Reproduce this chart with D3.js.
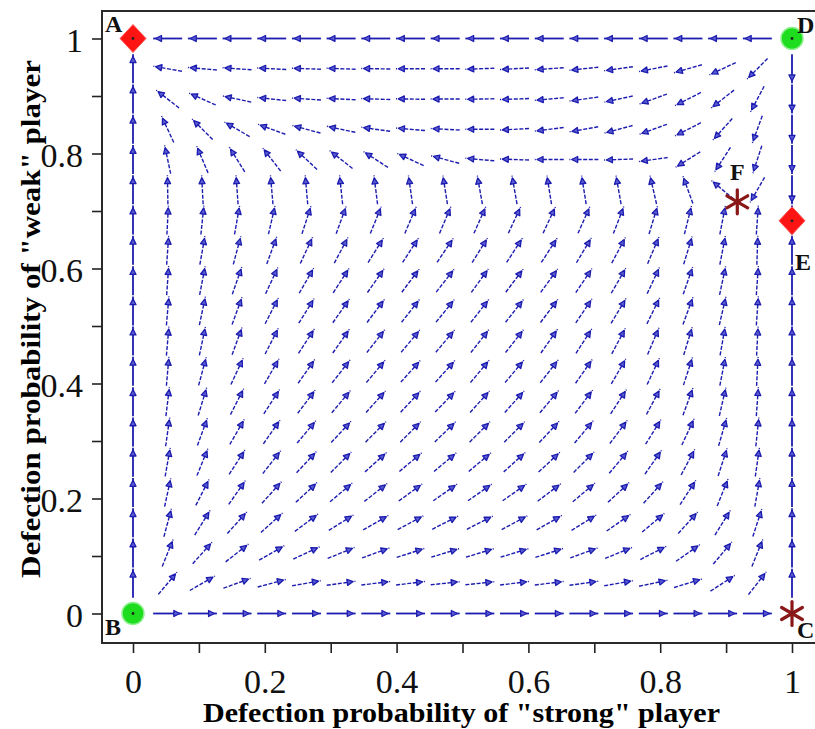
<!DOCTYPE html>
<html><head><meta charset="utf-8">
<script src="https://cdn.jsdelivr.net/npm/d3@7"></script>
<style>html,body{margin:0;padding:0;background:#fff;} svg{display:block;}</style>
</head><body><svg id="c" width="815" height="729"></svg>
<script>
// grid of the field plot (20 x 20), same values on both axes
const gridValues = [0,0.0526,0.1053,0.1579,0.2105,0.2632,0.3158,0.3684,0.4211,0.4737,0.5263,0.5789,0.6316,0.6842,0.7368,0.7895,0.8421,0.8947,0.9474,1];
// arrow directions in degrees (0 = right, 90 = up); one row per grid value of the "weak" player, null = rest point
const dirRow00 = [null,0,0,0,0,0,0,0,0,0,0,0,0,0,0,0,0,0,0,null];
const dirRow01 = [90,50,30,20,15,10,8,7,7,6,6,7,7,8,10,12,17,33,52,90];
const dirRow02 = [90,68,48,38,30,25,22,20,18,17,17,17,18,20,22,27,35,50,68,90];
const dirRow03 = [90,75,58,48,42,37,32,30,28,27,27,28,30,32,35,40,48,58,72,90];
const dirRow04 = [90,78,63,55,48,43,40,38,36,35,35,35,37,40,43,48,57,68,80,90];
const dirRow05 = [90,80,68,57,52,47,45,42,40,40,40,42,43,45,50,55,62,72,82,90];
const dirRow06 = [90,82,70,60,55,50,47,45,45,44,45,45,47,50,53,58,65,74,84,90];
const dirRow07 = [90,83,73,63,57,53,50,48,47,46,48,48,50,53,57,62,70,77,86,90];
const dirRow08 = [90,85,75,65,60,55,52,50,48,48,50,50,52,55,60,65,72,79,87,90];
const dirRow09 = [90,85,78,70,63,57,55,52,50,50,52,52,55,57,62,67,73,80,87,90];
const dirRow10 = [90,85,78,70,63,58,55,53,52,51,52,52,53,56,59,64,70,77,86,90];
const dirRow11 = [90,86,79,71,65,60,57,55,53,52,54,53,54,56,60,65,71,78,86,90];
const dirRow12 = [90,86,80,75,70,65,62,58,57,56,58,57,57,59,62,67,73,79,88,90];
const dirRow13 = [90,87,84,80,77,72,70,68,67,67,66,65,65,66,69,73,76,79,86,90];
const dirRow14 = [90,91,93,94,95,95,96,97,98,99,100,100,99,99,100,103,110,140,240,270];
const dirRow15 = [90,102,113,122,128,137,142,147,155,165,175,178,180,180,182,188,212,237,252,270];
const dirRow16 = [90,115,135,150,160,165,168,172,175,177,180,183,187,190,195,200,207,228,250,270];
const dirRow17 = [90,142,156,168,174,176,177,178,179,180,181,182,185,188,192,200,207,218,242,270];
const dirRow18 = [90,170,175,176,177,178,178,179,180,180,182,183,184,186,188,191,196,205,225,270];
const dirRow19 = [null,180,180,180,180,180,180,180,180,180,180,180,180,180,180,180,180,180,180,null];
const dirRows = [dirRow00,dirRow01,dirRow02,dirRow03,dirRow04,dirRow05,dirRow06,dirRow07,dirRow08,dirRow09,
                 dirRow10,dirRow11,dirRow12,dirRow13,dirRow14,dirRow15,dirRow16,dirRow17,dirRow18,dirRow19];

// rest points
const eqLabel = ["A","B","C","D","E","F"];
const eqX = [0, 0, 1, 1, 1, 0.917];
const eqY = [1, 0, 0, 1, 0.683, 0.716];
const eqShape = ["diamond","circle","asterisk","circle","diamond","asterisk"];

// ticks
const tickValues = [0,0.1,0.2,0.3,0.4,0.5,0.6,0.7,0.8,0.9,1];
const tickLabels = ["0","","0.2","","0.4","","0.6","","0.8","","1"];
const xTitle = 'Defection probability of "strong" player';
const yTitle = 'Defection probability of "weak" player';

const svg = d3.select("#c");
const x = d3.scaleLinear().domain([0,1]).range([133, 792]);
const y = d3.scaleLinear().domain([0,1]).range([613.5, 38.5]);
const blue = "#1c1cb0";
const serif = "'Liberation Serif','DejaVu Serif',serif";

// frame
svg.append("rect").attr("x",102).attr("y",11).attr("width",730).attr("height",632)
  .attr("fill","none").attr("stroke","#2a2a2a").attr("stroke-width",2);

// axes
const fmt = d => tickLabels[tickValues.indexOf(d)];
const gx = svg.append("g").attr("transform","translate(0,643)")
  .call(d3.axisBottom(x).tickValues(tickValues).tickSize(10).tickFormat(fmt));
const gy = svg.append("g").attr("transform","translate(102,0)")
  .call(d3.axisLeft(y).tickValues(tickValues).tickSize(10).tickFormat(fmt));
[gx,gy].forEach(g => {
  g.select(".domain").remove();
  g.selectAll(".tick line").attr("stroke","#222").attr("stroke-width",1.6);
  g.selectAll(".tick text").attr("font-family",serif).attr("font-size",34).attr("fill","#111");
});
gx.selectAll(".tick text").attr("y",50).attr("dy",0);
gy.selectAll(".tick text").attr("x",-19).attr("dy","0.38em");

// titles
svg.append("text").attr("x",461.5).attr("y",722).attr("text-anchor","middle")
  .attr("font-family",serif).attr("font-weight","bold").attr("font-size",27)
  .attr("textLength",517).attr("lengthAdjust","spacingAndGlyphs").text(xTitle);
svg.append("text").attr("transform","translate(40,319) rotate(-90)").attr("text-anchor","middle")
  .attr("font-family",serif).attr("font-weight","bold").attr("font-size",27)
  .attr("textLength",518).attr("lengthAdjust","spacingAndGlyphs").text(yTitle);

// field arrows
const cells = [];
dirRows.forEach((row, j) => row.forEach((a, i) => {
  const edge = (i === 0 || i === 19 || j === 0 || j === 19);
  if (a !== null) cells.push({gx: gridValues[i], gy: gridValues[j], a, edge});
}));
const L = 29;
const ga = svg.append("g");
cells.forEach(c => {
  const cx = x(c.gx), cy = y(c.gy);
  const r = c.a * Math.PI / 180;
  const ux = Math.cos(r), uy = -Math.sin(r);
  ga.append("line")
    .attr("x1", cx - ux*L/2).attr("y1", cy - uy*L/2)
    .attr("x2", cx + ux*L/2).attr("y2", cy + uy*L/2)
    .attr("stroke", blue).attr("stroke-width", c.edge ? 1.8 : 1.4)
    .attr("stroke-dasharray", c.edge ? null : "4,1.6");
  const tx = cx + ux*L*0.42, ty = cy + uy*L*0.42;
  const bx = tx - ux*6, by = ty - uy*6;
  const px = -uy, py = ux;
  ga.append("path")
    .attr("d", `M${tx},${ty}L${bx+px*3},${by+py*3}L${bx-px*3},${by-py*3}Z`)
    .attr("fill", "#5a5ad0").attr("stroke", blue).attr("stroke-width", 1.3).attr("stroke-linejoin","round");
});

// rest points
const gm = svg.append("g");
eqLabel.forEach((lab, k) => {
  const cx = x(eqX[k]), cy = y(eqY[k]);
  if (eqShape[k] === "diamond") {
    gm.append("path").attr("d",`M${cx},${cy-14}L${cx+13},${cy}L${cx},${cy+14}L${cx-13},${cy}Z`)
      .attr("fill","#ff1414").attr("stroke","#ff5a5a").attr("stroke-width",1);
    gm.append("circle").attr("cx",cx).attr("cy",cy).attr("r",1.4).attr("fill","#222");
  } else if (eqShape[k] === "circle") {
    gm.append("circle").attr("cx",cx).attr("cy",cy).attr("r",11)
      .attr("fill","#1edc1e").attr("stroke","#8ef08e").attr("stroke-width",1.5);
    gm.append("circle").attr("cx",cx).attr("cy",cy).attr("r",1.4).attr("fill","#222");
  } else {
    [90, 30, 150].forEach(d => {
      const r = d*Math.PI/180, R = 12;
      gm.append("line").attr("x1",cx-Math.cos(r)*R).attr("y1",cy+Math.sin(r)*R)
        .attr("x2",cx+Math.cos(r)*R).attr("y2",cy-Math.sin(r)*R)
        .attr("stroke","#8a1818").attr("stroke-width",3.2).attr("stroke-linecap","round");
    });
  }
});

// point labels
const labPos = {A:[105,32], B:[105,635], C:[797,638], D:[797,33], E:[795,270], F:[730,180]};
eqLabel.forEach(lab => {
  svg.append("text").attr("x",labPos[lab][0]).attr("y",labPos[lab][1])
    .attr("font-family",serif).attr("font-weight","bold").attr("font-size",24).attr("fill","#111").text(lab);
});
</script></body></html>
